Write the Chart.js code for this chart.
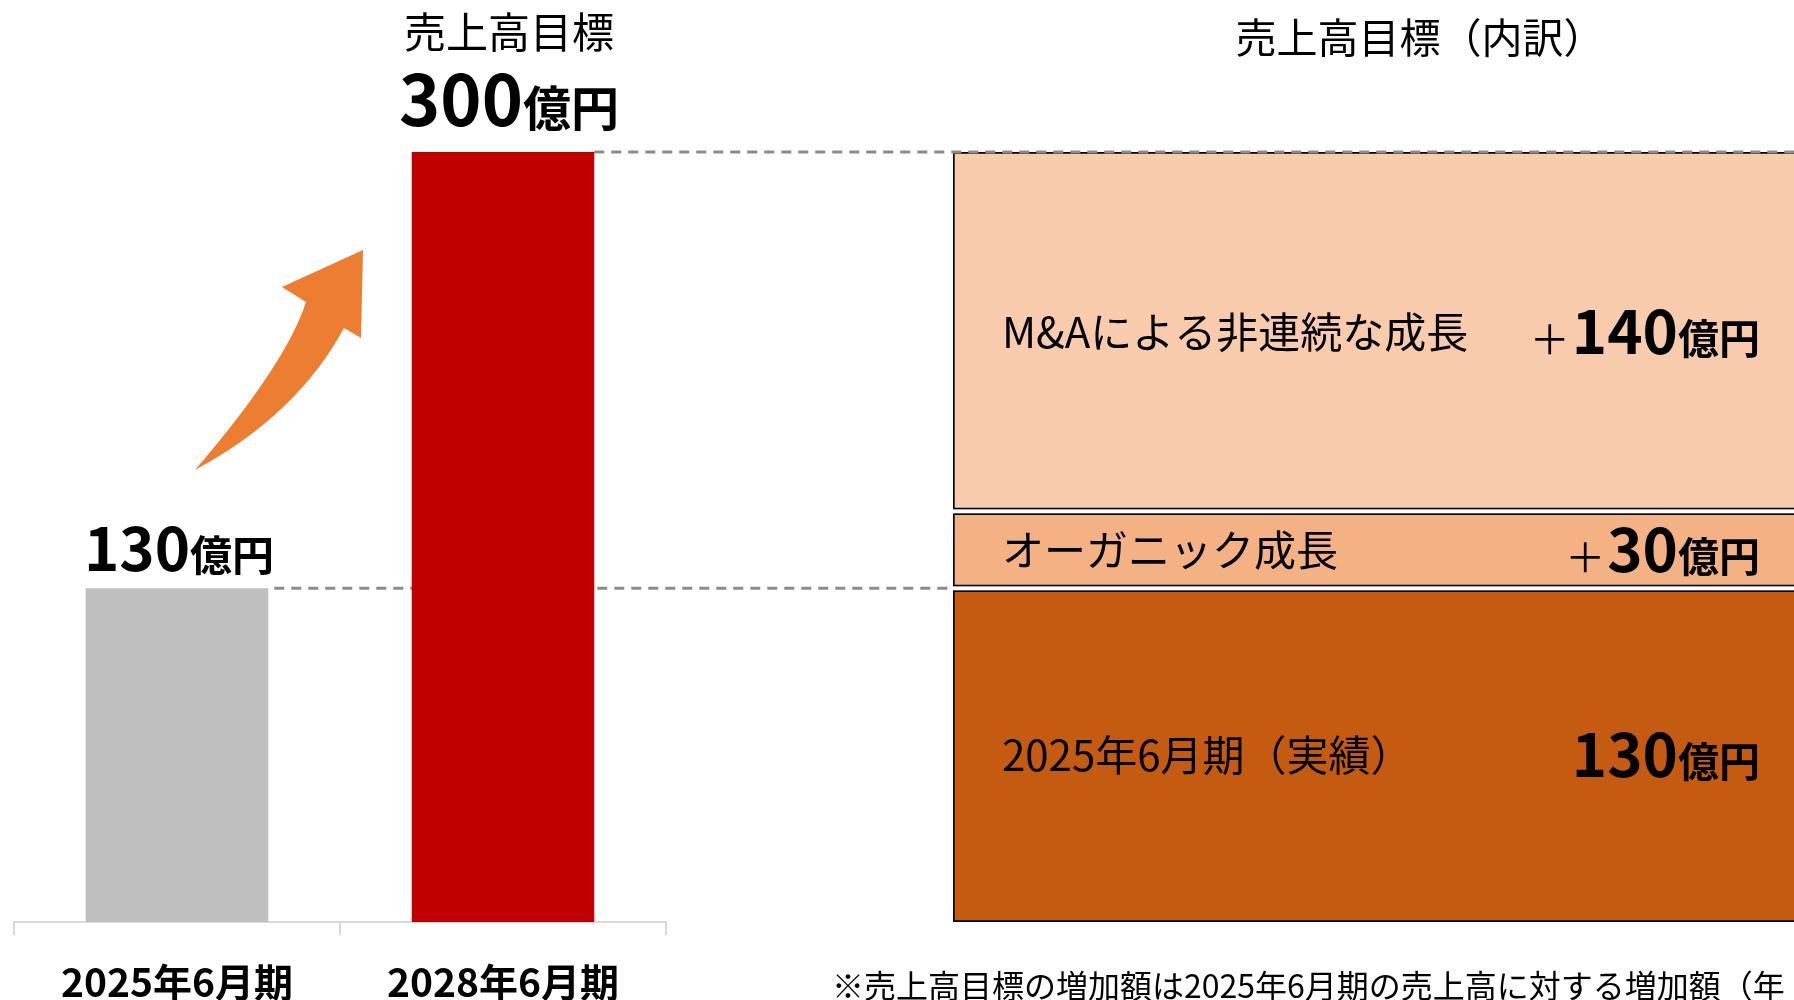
<!DOCTYPE html>
<html lang="ja">
<head>
<meta charset="utf-8">
<title>売上高目標</title>
<script src="https://cdn.jsdelivr.net/npm/chart.js@4.4.1/dist/chart.umd.min.js"></script>
<style>
  html, body { margin: 0; padding: 0; background: #fff; overflow: hidden; }
  #wrap { position: relative; width: 1794px; height: 1000px; overflow: hidden; }
  canvas { position: absolute; left: 0; top: 0; }
</style>
</head>
<body>
<div id="wrap">
  <canvas id="breakdown" width="1850" height="1000"></canvas>
  <canvas id="main" width="1794" height="1000"></canvas>
</div>
<script>
// left: sales actual vs target (億円)
const periods = ['2025年6月期', '2028年6月期'];
const sales = [130, 300];
const salesColors = ['#BFBFBF', '#C00000'];

// right: breakdown of the target, bottom to top
const partNames = ['2025年6月期（実績）', 'オーガニック成長', 'M&Aによる非連続な成長'];
const partValues = [130, 30, 140];
const partSigns = ['', '＋', '＋'];
const partColors = ['#C55A11', '#F4B183', '#F8CBAD'];

const FONT = "'Noto Sans CJK JP', 'Noto Sans', sans-serif";
const BOX_LEFT = 953;
const TOP_PAD = 152;
const AXIS_H = 78;

function f(size, weight) { return (weight || 'normal') + ' ' + size + 'px ' + FONT; }

// draw a row of text pieces sharing one baseline
function drawParts(ctx, parts, x, y, align) {
  let total = 0;
  parts.forEach(p => { ctx.font = p.font; p.w = ctx.measureText(p.text).width + (p.gap || 0); total += p.w; });
  let cx = align === 'right' ? x - total : (align === 'center' ? x - total / 2 : x);
  ctx.textAlign = 'left';
  ctx.textBaseline = 'alphabetic';
  parts.forEach(p => { ctx.font = p.font; ctx.fillText(p.text, cx, y); cx += p.w; });
}

const mainPlugin = {
  id: 'mainDeco',
  beforeDatasetsDraw(chart) {
    const ctx = chart.ctx;
    const y = chart.scales.y;
    const bars = chart.getDatasetMeta(0).data;
    ctx.save();
    ctx.strokeStyle = '#8C8C8C';
    ctx.lineWidth = 3;
    ctx.setLineDash([10, 7]);
    // 130 line, runs behind the red bar to the breakdown box
    let yy = y.getPixelForValue(sales[0]);
    ctx.beginPath();
    ctx.moveTo(bars[0].x + bars[0].width / 2 + 6, yy);
    ctx.lineTo(BOX_LEFT, yy);
    ctx.stroke();
    // 300 line
    yy = y.getPixelForValue(sales[1]);
    ctx.beginPath();
    ctx.moveTo(bars[1].x + bars[1].width / 2, yy);
    ctx.lineTo(chart.width, yy);
    ctx.stroke();
    ctx.restore();
  },
  afterDatasetsDraw(chart) {
    const ctx = chart.ctx;
    const bars = chart.getDatasetMeta(0).data;
    ctx.save();
    ctx.fillStyle = '#000';
    // value labels
    drawParts(ctx, [{ text: String(sales[0]), font: f(60, 'bold') }, { text: '億円', font: f(42, 'bold') }],
      bars[0].x + 2, bars[0].y - 17, 'center');
    drawParts(ctx, [{ text: String(sales[1]), font: f(70, 'bold') }, { text: '億円', font: f(48, 'bold') }],
      bars[1].x + 6, bars[1].y - 26, 'center');
    ctx.font = f(42);
    ctx.textAlign = 'center';
    ctx.textBaseline = 'middle';
    ctx.fillText('売上高目標', bars[1].x + 6, 32);

    // growth arrow
    const a = chart.chartArea;
    const ox = a.left, oy = a.top;
    ctx.fillStyle = '#ED7D31';
    ctx.beginPath();
    ctx.moveTo(ox + 181, oy + 318);
    ctx.quadraticCurveTo(ox + 283, oy + 263, ox + 330, oy + 176);
    ctx.lineTo(ox + 347, oy + 186);
    ctx.lineTo(ox + 349, oy + 98);
    ctx.lineTo(ox + 268, oy + 135);
    ctx.lineTo(ox + 292, oy + 150);
    ctx.quadraticCurveTo(ox + 272, oy + 212, ox + 181, oy + 318);
    ctx.closePath();
    ctx.fill();
    ctx.restore();
  }
};

new Chart(document.getElementById('main'), {
  type: 'bar',
  data: {
    labels: periods,
    datasets: [{
      data: sales,
      backgroundColor: salesColors,
      borderWidth: 0,
      barPercentage: 0.56,
      categoryPercentage: 1
    }]
  },
  options: {
    responsive: false,
    animation: false,
    layout: { padding: { left: 14, right: 1794 - 666, top: TOP_PAD, bottom: 0 } },
    plugins: { legend: { display: false }, tooltip: { enabled: false } },
    scales: {
      y: { display: false, min: 0, max: 300 },
      x: {
        grid: { drawOnChartArea: false, color: '#D9D9D9', lineWidth: 2, tickLength: 13 },
        border: { color: '#D9D9D9', width: 2 },
        ticks: { color: '#000', padding: 24, font: { family: FONT, size: 39, weight: 'bold' } },
        afterFit: s => { s.height = AXIS_H; }
      }
    }
  },
  plugins: [mainPlugin]
});

const boxPlugin = {
  id: 'boxDeco',
  afterDatasetsDraw(chart) {
    const ctx = chart.ctx;
    const a = chart.chartArea;
    ctx.save();
    // white gaps between stacked boxes
    ctx.fillStyle = '#fff';
    for (let i = 0; i < partValues.length - 1; i++) {
      const el = chart.getDatasetMeta(i).data[0];
      ctx.fillRect(a.left - 2, el.y - 2, chart.width, 4);
    }
    ctx.fillStyle = '#000';
    for (let i = 0; i < partValues.length; i++) {
      const el = chart.getDatasetMeta(i).data[0];
      const cy = (el.y + el.base) / 2;
      ctx.font = f(42);
      ctx.textAlign = 'left';
      ctx.textBaseline = 'middle';
      ctx.fillText(partNames[i], a.left + 49, cy);
      const parts = [];
      if (partSigns[i]) parts.push({ text: partSigns[i], font: f(40), gap: 2 });
      parts.push({ text: String(partValues[i]), font: f(60, 'bold') });
      parts.push({ text: '億円', font: f(41, 'bold') });
      drawParts(ctx, parts, 1760, cy + 22, 'right');
    }
    ctx.font = f(41);
    ctx.textAlign = 'center';
    ctx.textBaseline = 'middle';
    ctx.fillText('売上高目標（内訳）', 1420, 37);
    ctx.font = f(32);
    ctx.textAlign = 'left';
    ctx.fillText('※売上高目標の増加額は2025年6月期の売上高に対する増加額（年', 832, 986);
    ctx.restore();
  }
};

const edges = [
  { top: 4, bottom: 2, left: 2, right: 2 },
  { top: 4, bottom: 4, left: 2, right: 2 },
  { top: 2, bottom: 4, left: 2, right: 2 }
];

new Chart(document.getElementById('breakdown'), {
  type: 'bar',
  data: {
    labels: ['内訳'],
    datasets: partValues.map((v, i) => ({
      label: partNames[i],
      data: [v],
      backgroundColor: partColors[i],
      borderColor: '#000',
      borderWidth: edges[i],
      borderSkipped: false,
      barPercentage: 1,
      categoryPercentage: 1
    }))
  },
  options: {
    responsive: false,
    animation: false,
    layout: { padding: { left: BOX_LEFT, right: 0, top: TOP_PAD, bottom: AXIS_H } },
    plugins: { legend: { display: false }, tooltip: { enabled: false } },
    scales: {
      x: { display: false, stacked: true },
      y: { display: false, stacked: true, min: 0, max: 300 }
    }
  },
  plugins: [boxPlugin]
});
</script>
</body>
</html>
